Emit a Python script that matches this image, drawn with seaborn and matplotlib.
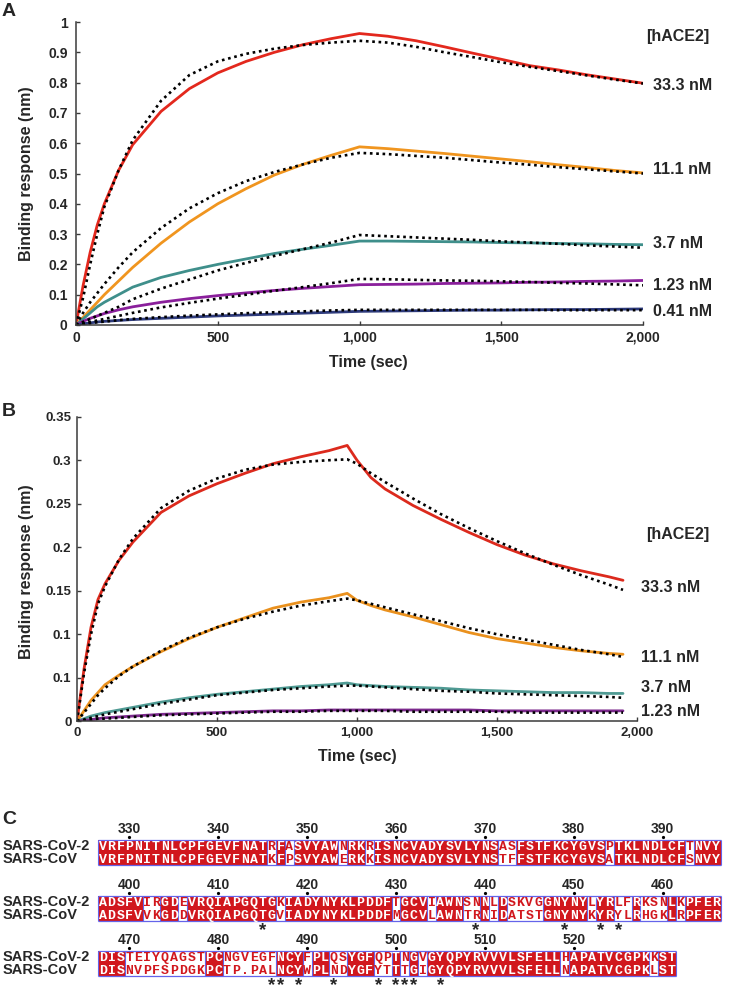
import numpy as np
import pandas as pd
import matplotlib
matplotlib.use("Agg")
import matplotlib.pyplot as plt
from matplotlib.colors import ListedColormap
import seaborn as sns

# ---------------- data: panel A ----------------
tA = [0, 25, 50, 75, 100, 150, 200, 300, 400, 500, 600, 700, 800, 900, 1000,
      1100, 1200, 1300, 1400, 1500, 1600, 1700, 1800, 1900, 2000]
A_33 = [0, 0.13, 0.24, 0.33, 0.40, 0.51, 0.595, 0.705, 0.78, 0.832, 0.87, 0.90, 0.925, 0.945, 0.962,
        0.953, 0.938, 0.918, 0.897, 0.877, 0.856, 0.842, 0.826, 0.812, 0.798]
A_33_fit = [0, 0.09, 0.20, 0.30, 0.39, 0.51, 0.61, 0.74, 0.825, 0.87, 0.895, 0.912, 0.924, 0.932, 0.938,
            0.932, 0.918, 0.90, 0.884, 0.867, 0.852, 0.838, 0.824, 0.81, 0.797]
A_11 = [0, 0.025, 0.05, 0.075, 0.10, 0.145, 0.19, 0.27, 0.34, 0.40, 0.45, 0.495, 0.53, 0.56, 0.588,
        0.582, 0.574, 0.566, 0.557, 0.548, 0.539, 0.529, 0.52, 0.51, 0.502]
A_11_fit = [0, 0.04, 0.075, 0.105, 0.135, 0.19, 0.24, 0.32, 0.385, 0.435, 0.475, 0.505, 0.53, 0.552, 0.568,
            0.564, 0.558, 0.552, 0.544, 0.536, 0.529, 0.521, 0.514, 0.507, 0.50]
A_37 = [0, 0.02, 0.04, 0.06, 0.075, 0.10, 0.125, 0.157, 0.18, 0.20, 0.218, 0.236, 0.25, 0.263, 0.277,
        0.277, 0.276, 0.275, 0.274, 0.272, 0.271, 0.269, 0.268, 0.266, 0.265]
A_37_fit = [0, 0.01, 0.02, 0.03, 0.04, 0.06, 0.085, 0.12, 0.15, 0.18, 0.205, 0.228, 0.25, 0.272, 0.297,
            0.293, 0.289, 0.285, 0.281, 0.276, 0.272, 0.268, 0.263, 0.259, 0.255]
A_123 = [0, 0.012, 0.022, 0.03, 0.038, 0.05, 0.06, 0.075, 0.087, 0.097, 0.106, 0.114, 0.121, 0.127, 0.133,
         0.134, 0.135, 0.137, 0.138, 0.139, 0.141, 0.142, 0.144, 0.145, 0.147]
A_123_fit = [0, 0.005, 0.01, 0.015, 0.02, 0.03, 0.04, 0.058, 0.073, 0.087, 0.10, 0.113, 0.125, 0.138, 0.152,
             0.151, 0.149, 0.147, 0.146, 0.144, 0.142, 0.139, 0.137, 0.134, 0.131]
A_041 = [0, 0.004, 0.007, 0.01, 0.012, 0.015, 0.018, 0.022, 0.026, 0.03, 0.033, 0.036, 0.039, 0.042, 0.045,
         0.046, 0.047, 0.048, 0.049, 0.049, 0.050, 0.051, 0.051, 0.052, 0.053]
A_041_fit = [0, 0.003, 0.006, 0.009, 0.011, 0.016, 0.02, 0.026, 0.031, 0.035, 0.039, 0.042, 0.045, 0.048, 0.050,
             0.050, 0.050, 0.050, 0.050, 0.050, 0.050, 0.049, 0.049, 0.049, 0.049]
A_conc_labels = ["33.3 nM", "11.1 nM", "3.7 nM", "1.23 nM", "0.41 nM"]

# ---------------- data: panel B ----------------
tB = [0, 25, 50, 75, 100, 150, 200, 300, 400, 500, 600, 700, 800, 900, 965, 1000,
      1050, 1100, 1200, 1300, 1400, 1500, 1600, 1700, 1800, 1900, 1950]
B_33 = [0, 0.06, 0.108, 0.14, 0.158, 0.185, 0.206, 0.24, 0.259, 0.273, 0.285, 0.296, 0.304, 0.311, 0.317, 0.30,
        0.28, 0.267, 0.248, 0.232, 0.217, 0.203, 0.191, 0.181, 0.173, 0.166, 0.162]
B_33_fit = [0, 0.055, 0.10, 0.135, 0.155, 0.186, 0.21, 0.245, 0.265, 0.279, 0.289, 0.295, 0.298, 0.30, 0.301, 0.296,
            0.285, 0.275, 0.256, 0.238, 0.222, 0.207, 0.193, 0.18, 0.168, 0.157, 0.151]
B_11 = [0, 0.012, 0.024, 0.033, 0.042, 0.053, 0.063, 0.08, 0.095, 0.108, 0.119, 0.13, 0.137, 0.142, 0.147, 0.139,
        0.133, 0.128, 0.12, 0.111, 0.102, 0.095, 0.09, 0.085, 0.081, 0.078, 0.077]
B_11_fit = [0, 0.01, 0.02, 0.03, 0.038, 0.052, 0.063, 0.081, 0.096, 0.108, 0.118, 0.126, 0.133, 0.138, 0.141, 0.139,
            0.135, 0.131, 0.123, 0.115, 0.107, 0.10, 0.094, 0.088, 0.082, 0.077, 0.074]
B_37 = [0, 0.003, 0.006, 0.008, 0.01, 0.013, 0.016, 0.022, 0.027, 0.031, 0.034, 0.037, 0.04, 0.042, 0.044, 0.042,
        0.041, 0.04, 0.039, 0.038, 0.036, 0.035, 0.034, 0.033, 0.033, 0.032, 0.032]
B_37_fit = [0, 0.002, 0.004, 0.006, 0.008, 0.011, 0.014, 0.02, 0.025, 0.03, 0.033, 0.036, 0.038, 0.04, 0.041, 0.041,
            0.04, 0.039, 0.037, 0.035, 0.034, 0.032, 0.031, 0.03, 0.029, 0.028, 0.027]
B_123 = [0, 0.001, 0.002, 0.003, 0.004, 0.005, 0.006, 0.008, 0.009, 0.01, 0.011, 0.012, 0.012, 0.013, 0.013, 0.013,
         0.013, 0.013, 0.013, 0.013, 0.013, 0.012, 0.012, 0.012, 0.012, 0.012, 0.012]
B_123_fit = [0, 0.001, 0.002, 0.003, 0.003, 0.004, 0.005, 0.007, 0.008, 0.009, 0.01, 0.011, 0.011, 0.012, 0.012, 0.012,
             0.012, 0.012, 0.011, 0.011, 0.011, 0.011, 0.01, 0.01, 0.01, 0.01, 0.01]
B_conc_labels = ["33.3 nM", "11.1 nM", "3.7 nM", "1.23 nM"]

A_yticks = [0, 0.1, 0.2, 0.3, 0.4, 0.5, 0.6, 0.7, 0.8, 0.9, 1.0]
A_yticklabels = ["0", "0.1", "0.2", "0.3", "0.4", "0.5", "0.6", "0.7", "0.8", "0.9", "1"]
B_yticks = [0, 0.05, 0.1, 0.15, 0.2, 0.25, 0.3, 0.35]
B_yticklabels = ["0", "0.1", "0.1", "0.15", "0.2", "0.25", "0.3", "0.35"]
x_ticks = [0, 500, 1000, 1500, 2000]
x_ticklabels = ["0", "500", "1,000", "1,500", "2,000"]

# ---------------- data: panel C ----------------
seq_names = ["SARS-CoV-2", "SARS-CoV"]
cov2_rows = ["VRFPNITNLCPFGEVFNATRFASVYAWNRKRISNCVADYSVLYNSASFSTFKCYGVSPTKLNDLCFTNVY",
             "ADSFVIRGDEVRQIAPGQTGKIADYNYKLPDDFTGCVIAWNSNNLDSKVGGNYNYLYRLFRKSNLKPFER",
             "DISTEIYQAGSTPCNGVEGFNCYFPLQSYGFQPTNGVGYQPYRVVVLSFELLHAPATVCGPKKST"]
cov1_rows = ["VRFPNITNLCPFGEVFNATKFPSVYAWERKKISNCVADYSVLYNSTFFSTFKCYGVSATKLNDLCFSNVY",
             "ADSFVVKGDDVRQIAPGQTGVIADYNYKLPDDFMGCVLAWNTRNIDATSTGNYNYKYRYLRHGKLRPFER",
             "DISNVPFSPDGKPCTP.PALNCYWPLNDYGFYTTTGIGYQPYRVVVLSFELLNAPATVCGPKLST"]
row_first_residue = [327, 397, 467]
row_tick_residues = [[330, 340, 350, 360, 370, 380, 390],
                     [400, 410, 420, 430, 440, 450, 460],
                     [470, 480, 490, 500, 510, 520]]
star_residues = [[], [415, 439, 449, 453, 455], [486, 487, 489, 493, 498, 500, 501, 502, 505]]

# ---------------- style ----------------
sns.set_theme(style="ticks")
plt.rcParams['font.family'] = ['Liberation Sans', 'DejaVu Sans']
plt.rcParams['font.weight'] = 'bold'

W, H = 736, 985
fig = plt.figure(figsize=(W / 100, H / 100), dpi=100)


def rect(l, t, r, b):
    return [l / W, 1 - b / H, (r - l) / W, (b - t) / H]


def fx(px):
    return px / W


def fy(py):
    return 1 - py / H


colsA = ['#e3281d', '#f0951f', '#3f8f8b', '#8a1f9b', '#2e3b7c']
colsB = ['#dc2a1d', '#ea911e', '#4f9a93', '#7c2a8d']
axis_col = '#3a3a3a'


def style_axes(ax, ylim, yticks, ylabels, fs, pad_y, pad_x, xmax):
    ax.set_xlim(0, xmax)
    ax.set_ylim(*ylim)
    sns.despine(ax=ax)
    for s in ['left', 'bottom']:
        ax.spines[s].set_color(axis_col)
        ax.spines[s].set_linewidth(1.1)
    ax.set_xticks(x_ticks)
    ax.set_xticklabels(x_ticklabels, fontsize=fs, fontweight='bold')
    ax.set_yticks(yticks)
    ax.set_yticklabels(ylabels, fontsize=fs, fontweight='bold')
    ax.tick_params(axis='both', direction='in', length=3, width=1, color=axis_col,
                   bottom=True, left=True)
    ax.tick_params(axis='y', pad=pad_y)
    ax.tick_params(axis='x', pad=pad_x)
    ax.set_xlabel('')
    ax.set_ylabel('')
    ax.patch.set_alpha(0)


# ---------------- panel A ----------------
axA = fig.add_axes(rect(76, 22, 643, 325))
A_series = [(A_33, A_33_fit), (A_11, A_11_fit), (A_37, A_37_fit), (A_123, A_123_fit), (A_041, A_041_fit)]
for (vals, fit), c in zip(A_series, colsA):
    sns.lineplot(x=tA, y=vals, color=c, lw=2.0, ax=axA)
for (vals, fit), c in zip(A_series, colsA):
    sns.lineplot(x=tA, y=fit, color='black', lw=1.9, ls=(0, (1, 1.4)), ax=axA)
style_axes(axA, (0, 1.0), A_yticks, A_yticklabels, 10, 6, 4, 2000)

fig.text(fx(368), fy(362), "Time (sec)", ha='center', va='center', fontsize=11.5, fontweight='bold')
fig.text(fx(27), fy(174), "Binding response (nm)", ha='center', va='center', rotation=90,
         fontsize=11.5, fontweight='bold')
fig.text(fx(646), fy(37), "[hACE2]", ha='left', va='center', fontsize=11.5, fontweight='bold')
for lab, py in zip(A_conc_labels, [85, 170, 244, 285, 311]):
    fig.text(fx(653), fy(py), lab, ha='left', va='center', fontsize=11.5, fontweight='bold')
fig.text(fx(2), fy(12), "A", ha='left', va='center', fontsize=14, fontweight='bold')

# ---------------- panel B ----------------
axB = fig.add_axes(rect(77, 416.7, 637, 721.3))
B_series = [(B_33, B_33_fit), (B_11, B_11_fit), (B_37, B_37_fit), (B_123, B_123_fit)]
for (vals, fit), c in zip(B_series, colsB):
    sns.lineplot(x=tB, y=vals, color=c, lw=2.0, ax=axB)
for (vals, fit), c in zip(B_series, colsB):
    sns.lineplot(x=tB, y=fit, color='black', lw=1.9, ls=(0, (1, 1.4)), ax=axB)
style_axes(axB, (0, 0.35), B_yticks, B_yticklabels, 9.5, 4, 4, 2000)

fig.text(fx(357), fy(757), "Time (sec)", ha='center', va='center', fontsize=11.5, fontweight='bold')
fig.text(fx(27), fy(572), "Binding response (nm)", ha='center', va='center', rotation=90,
         fontsize=11.5, fontweight='bold')
fig.text(fx(646), fy(535), "[hACE2]", ha='left', va='center', fontsize=11.5, fontweight='bold')
for lab, py in zip(B_conc_labels, [587, 658, 688, 712]):
    fig.text(fx(641), fy(py), lab, ha='left', va='center', fontsize=11.5, fontweight='bold')
fig.text(fx(2), fy(411), "B", ha='left', va='center', fontsize=14, fontweight='bold')

# ---------------- panel C ----------------
red_c = '#d1171d'
blue_c = '#6464ea'
col_w = 8.89
row_h = 12.5
block_left = 98.2
block_tops = [840, 896, 951]

fig.text(fx(2), fy(819), "C", ha='left', va='center', fontsize=14, fontweight='bold')

for r in range(3):
    s2, s1 = cov2_rows[r], cov1_rows[r]
    n = len(s2)
    same = np.array([a == b for a, b in zip(s2, s1)], dtype=float)
    ident = pd.DataFrame([same, same], index=seq_names)
    top = block_tops[r]
    ax = fig.add_axes(rect(block_left, top, block_left + n * col_w, top + 2 * row_h))
    sns.heatmap(ident, cmap=ListedColormap(['white', red_c]), vmin=0, vmax=1, cbar=False,
                ax=ax, xticklabels=False, yticklabels=False, linewidths=0)
    for i, seq in enumerate([s2, s1]):
        for j, ch in enumerate(seq):
            ax.text(j + 0.5, i + 0.82, ch, ha='center', va='baseline',
                    color='white' if same[j] else red_c,
                    fontfamily='Liberation Mono', fontweight='bold', fontsize=9.5)
    ax.hlines([0, 2], 0, n, colors=blue_c, lw=0.9, clip_on=False)
    trans = [0] + [j for j in range(1, n) if same[j] != same[j - 1]] + [n]
    ax.vlines(trans, 0, 2, colors=blue_c, lw=0.8, clip_on=False)
    start = row_first_residue[r]
    for res in row_tick_residues[r]:
        j = res - start
        ax.text(j + 0.5, -0.85, str(res), ha='center', va='center', fontsize=10,
                fontweight='bold', clip_on=False)
        ax.plot([j + 0.5], [-0.22], marker='o', ms=1.3, color='black', clip_on=False)
    for res in star_residues[r]:
        ax.text(res - start + 0.5, 3.14, '*', ha='center', va='baseline', fontsize=13.5,
                fontweight='bold', clip_on=False)
    for i, name in enumerate(seq_names):
        fig.text(fx(3), fy(top + row_h * (i + 0.5)), name, ha='left', va='center',
                 fontsize=10.5, fontweight='bold')

fig.savefig("out.png", dpi=100)
